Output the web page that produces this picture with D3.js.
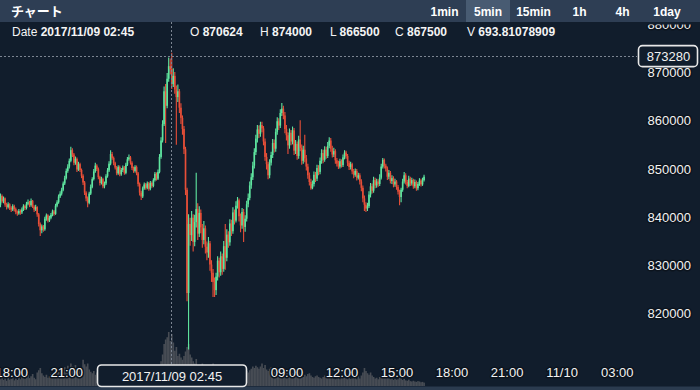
<!DOCTYPE html>
<html><head><meta charset="utf-8">
<script src="https://cdn.jsdelivr.net/npm/d3@7"></script>
<style>
html,body{margin:0;padding:0;background:#111d2c;overflow:hidden}
svg{display:block}
text{font-family:"Liberation Sans",Arial,Helvetica,sans-serif}
</style></head><body><svg id="c" width="700" height="390"></svg>
<script>
// ---------- data ----------
const startTime = new Date(2017, 10, 8, 17, 25);
const stepMinutes = 5;
const opens = [842500,844300,843200,843800,842500,842000,842600,841800,841500,842200,
841600,841000,840700,841200,840900,841500,842200,841800,842700,843000,
842400,843300,842100,841500,842000,840500,838500,837200,838000,837400,
839600,840300,839200,839800,840400,841100,840600,842300,843000,844200,
844800,845600,846900,848000,849500,850400,851600,853800,852900,851200,
852000,849800,850900,849700,848500,847100,845000,843800,842900,844800,
846200,847800,849400,850600,849900,848200,847000,847800,846300,846900,
848400,849600,851000,853000,852200,851100,850200,849000,850300,848800,
849700,850200,849100,850800,851900,852300,851200,850100,849500,850300,
849000,846800,845000,844200,845900,846700,846000,846900,845800,847000,
846400,847600,848900,847900,849300,852400,855800,859200,866000,863000,
868600,871200,870624,867500,869200,866400,864800,866000,862600,860500,
858200,854000,845600,824200,838500,836200,839800,834800,838900,841600,
836500,840800,837800,835200,837600,833800,832600,834500,830100,828400,
826500,824800,827600,830900,828500,831800,829200,833900,831500,836300,
834700,838600,837000,840900,839200,842300,843400,840100,838200,841000,
837900,839600,842600,843900,846500,848200,850600,853400,856200,858100,
857200,859000,858300,855600,852400,850900,848600,851200,852800,855300,
854100,857600,859800,858900,861500,862400,861000,858200,856900,854800,
857400,855600,857900,853700,855100,852600,856000,854300,851600,853900,
852100,850400,848600,847200,845900,846800,848700,847900,850100,849300,
851600,853200,851800,853900,852600,854700,855800,854100,852900,853600,
851700,851000,850400,851500,850700,852300,853300,852600,851200,850300,
850900,849400,848700,849500,848100,848600,847300,846000,843800,842500,
841700,842200,844600,846300,845400,847600,846500,847300,846800,848100,
850400,851800,850600,850000,848300,849100,847400,848000,846700,847300,
846200,845200,844100,845600,847300,848600,847200,846400,847900,846900,
847600,846300,847200,845900,846800,847500,846700,847600];
const highs = [844800,844600,844200,844000,842900,843000,842800,842200,842600,842500,
841900,841300,841600,841500,841900,842600,842500,843100,843600,843300,
843800,843500,842400,842500,842200,840800,838800,838400,838300,840000,
840700,840500,840200,840800,841500,841400,842700,843400,844600,845300,
846000,847300,848500,850000,850900,852100,854500,854200,853200,852500,
852300,851400,851200,850000,848800,847400,845300,844200,845200,846700,
848200,849900,851200,850900,850200,848500,848300,848100,847300,848800,
850100,851500,853800,853400,852500,851400,850500,850700,850600,850100,
850600,850500,851200,852400,852900,852600,851500,850400,850700,850600,
849300,847100,845400,846300,847100,847000,847300,847200,847400,847300,
848000,849300,849200,849800,853000,856500,860000,867000,867500,869800,
873000,872800,874000,870800,870000,867200,867400,866500,863500,861000,
858800,854500,846000,840500,839800,841200,840500,840400,849100,842800,
842200,841500,838500,839100,838200,834900,835800,835000,831000,829200,
827400,828400,831800,831500,832800,832400,835000,838500,837400,837000,
839500,839400,842000,841500,843200,844100,843800,840700,841800,841600,
840300,843300,844800,847300,849000,851400,854200,857000,859000,858900,
859700,859700,858800,856200,853200,851400,851900,853500,856100,856000,
858300,860600,860400,862300,863600,863000,861700,859000,857500,858300,
858000,858700,858400,855900,855600,856800,860000,855000,854700,857000,
852800,851000,849200,847900,847500,849400,849300,850800,850700,852300,
854000,853900,854600,854500,855500,856500,856300,854700,854300,854000,
852200,851600,852000,851900,852900,853800,853700,853000,851600,851400,
851200,849900,850000,849900,849100,849000,847800,846500,844400,843000,
842900,845300,847000,846900,848300,848100,847900,847800,848800,851000,
852200,852100,851000,850400,849700,849500,848600,848400,847900,847600,
846600,845600,846000,847900,849300,849000,847600,848500,848300,848100,
847900,847700,847500,847200,848000,847900,848100,848700];
const lows = [842000,842900,842800,842100,841500,841700,841400,841000,841200,841100,
840500,840200,840400,840400,840600,841200,841400,841500,842400,842000,
842100,841800,841000,841200,840000,838000,836000,836600,836900,837100,
839200,838800,838900,839500,840100,840200,840400,842000,842700,843900,
844400,845300,846600,847700,849100,850000,851300,852400,850700,850800,
849300,849500,849300,848000,846600,844500,843200,842000,842600,844500,
845900,847500,849100,849500,847800,846500,846700,845900,845900,846600,
848100,849300,850700,851800,850700,849800,848600,848700,848400,848500,
849300,848700,848800,850500,851600,850800,849700,849100,849200,848600,
846300,844400,843500,843900,845600,845600,845700,845400,845500,846000,
846100,847300,847500,847600,849000,852000,855400,858800,855300,862500,
868000,869500,866500,866900,865500,854900,863800,861500,859200,857000,
853000,844500,822500,812500,834000,835000,832800,833900,837800,835200,
835800,836600,833600,834300,832400,831000,831500,828800,826500,823400,
823400,823800,826800,827400,827800,828000,828600,829000,830800,833600,
834000,836000,836500,838400,838800,841700,839000,836800,837500,834800,
836900,839000,842000,843400,845800,847600,850000,852800,855400,856300,
856600,857500,854800,851600,849800,847800,848000,850600,852200,853300,
853500,857000,858000,858400,860900,860200,857300,855800,853000,854100,
854800,855000,852800,853000,851800,852000,853600,850800,851000,851300,
849600,847900,846500,845600,845700,846300,847200,847400,848600,848800,
851000,851100,851400,852000,852200,854200,853500,852300,852400,851000,
850400,849900,850000,850200,850300,851900,852000,850500,849700,849800,
848800,848000,848300,847500,847700,846700,845300,843000,841200,841000,
841200,841800,844000,844800,845000,845900,846000,846200,846400,847700,
850000,850000,849400,847600,847800,846900,846800,846100,846200,845600,
844600,842400,843000,845200,846900,846700,845900,846100,846400,846500,
845800,845900,845400,845500,846400,846300,846400,847300];
const closes = [844300,843200,843800,842500,842000,842600,841800,841500,842200,841600,
841000,840700,841200,840900,841500,842200,841800,842700,843000,842400,
843300,842100,841500,842000,840500,838500,837200,838000,837400,839600,
840300,839200,839800,840400,841100,840600,842300,843000,844200,844800,
845600,846900,848000,849500,850400,851600,853800,852900,851200,852000,
849800,850900,849700,848500,847100,845000,843800,842900,844800,846200,
847800,849400,850600,849900,848200,847000,847800,846300,846900,848400,
849600,851000,853000,852200,851100,850200,849000,850300,848800,849700,
850200,849100,850800,851900,852300,851200,850100,849500,850300,849000,
846800,845000,844200,845900,846700,846000,846900,845800,847000,846400,
847600,848900,847900,849300,852400,855800,859200,866000,863000,868600,
871200,870624,867500,869200,866400,864800,866000,862600,860500,858200,
854000,845600,824200,838500,836200,839800,834800,838900,841600,836500,
840800,837800,835200,837600,833800,832600,834500,830100,828400,826500,
824800,827600,830900,828500,831800,829200,833900,831500,836300,834700,
838600,837000,840900,839200,842300,843400,840100,838200,841000,837900,
839600,842600,843900,846500,848200,850600,853400,856200,858100,857200,
859000,858300,855600,852400,850900,848600,851200,852800,855300,854100,
857600,859800,858900,861500,862400,861000,858200,856900,854800,857400,
855600,857900,853700,855100,852600,856000,854300,851600,853900,852100,
850400,848600,847200,845900,846800,848700,847900,850100,849300,851600,
853200,851800,853900,852600,854700,855800,854100,852900,853600,851700,
851000,850400,851500,850700,852300,853300,852600,851200,850300,850900,
849400,848700,849500,848100,848600,847300,846000,843800,842500,841700,
842200,844600,846300,845400,847600,846500,847300,846800,848100,850400,
851800,850600,850000,848300,849100,847400,848000,846700,847300,846200,
845200,844100,845600,847300,848600,847200,846400,847900,846900,847600,
846300,847200,845900,846800,847500,846700,847600,848300];
const volumes = [90,120,80,100,70,110,85,95,130,75,
100,80,120,90,140,110,95,125,150,105,
130,160,110,90,180,210,240,170,140,120,
150,110,130,160,140,180,200,170,230,190,
210,180,250,230,270,220,300,260,240,280,
230,200,250,210,350,290,260,300,220,190,
170,200,150,180,160,140,170,150,130,160,
140,170,200,150,130,120,140,110,130,120,
110,130,150,170,140,120,110,100,130,120,
160,200,180,150,130,120,140,110,130,120,
140,160,150,170,250,330,420,560,620,650,
720,600,694,580,470,520,400,430,380,350,
400,460,520,560,420,380,330,300,360,280,
260,240,300,220,250,280,230,260,240,300,
280,250,230,210,240,200,220,260,200,190,
210,180,200,170,220,190,160,180,170,150,
170,200,180,210,230,260,240,270,250,230,
260,300,240,280,220,200,230,250,210,190,
220,240,200,230,250,210,190,170,180,160,
150,170,140,160,130,180,160,140,120,150,
130,160,170,140,120,110,130,140,120,110,
100,120,140,130,150,160,120,110,100,90,
100,110,90,120,130,110,100,90,105,95,
100,120,110,90,130,100,140,180,240,200,
170,150,180,140,120,100,110,90,120,140,
150,130,120,110,100,90,100,80,95,85,
90,110,100,80,95,75,70,85,65,60,
70,60,55,65,60,50,55,45];
const priceTicks = [820000, 830000, 840000, 850000, 860000, 870000, 880000];
const timeTickHours = 3;
const timeframes = ["1min", "5min", "15min", "1h", "4h", "1day"];
const selectedTimeframe = "5min";
const title = "チャート";
const crossTime = new Date(2017, 10, 9, 2, 45);
const crossPrice = 873280;
const crossDateLabel = "2017/11/09 02:45";
const infoItems = [["O", "870624"], ["H", "874000"], ["L", "866500"], ["C", "867500"], ["V", "693.81078909"]];

// ---------- layout ----------
const W = 700, H = 390;
const svg = d3.select("#c");
const bg = "#111d2c";
const upColor = "#5fe6a0", downColor = "#e84f38";

svg.append("rect").attr("width", W).attr("height", H).attr("fill", bg);
const defs = svg.append("defs");
defs.append("clipPath").attr("id", "axisClip").append("rect")
  .attr("x", 600).attr("y", 24.5).attr("width", 100).attr("height", 340);

const times = closes.map((_, i) => new Date(startTime.getTime() + i * stepMinutes * 60000));
const x = d3.scaleTime()
  .domain([new Date(2017, 10, 8, 18, 0), new Date(2017, 10, 10, 3, 0)])
  .range([11.2, 616.7]);
const y = d3.scaleLinear().domain([820000, 870000]).range([313.3, 72]);
const yv = d3.scaleLinear().domain([0, 800]).range([386, 326]);
const bw = (x(new Date(startTime.getTime() + stepMinutes * 60000)) - x(startTime));

// volume
svg.append("g").selectAll("rect").data(volumes).join("rect")
  .attr("x", (d, i) => x(times[i]) - bw / 2)
  .attr("width", bw + 0.1)
  .attr("y", d => yv(d))
  .attr("height", d => yv(0) - yv(d))
  .attr("fill", "#474c54");

// candles
const cg = svg.append("g");
const idx = d3.range(closes.length);
cg.selectAll("line").data(idx).join("line")
  .attr("x1", i => x(times[i])).attr("x2", i => x(times[i]))
  .attr("y1", i => y(highs[i])).attr("y2", i => y(lows[i]))
  .attr("stroke", i => closes[i] >= opens[i] ? upColor : downColor)
  .attr("stroke-width", 1.1);
cg.selectAll("rect").data(idx).join("rect")
  .attr("x", i => x(times[i]) - 0.8)
  .attr("width", 1.6)
  .attr("y", i => y(Math.max(opens[i], closes[i])))
  .attr("height", i => Math.max(1, Math.abs(y(opens[i]) - y(closes[i]))))
  .attr("fill", i => closes[i] >= opens[i] ? upColor : downColor);

// crosshair
svg.append("line").attr("x1", 0).attr("x2", 637).attr("y1", Math.round(y(crossPrice)) + 0.5).attr("y2", Math.round(y(crossPrice)) + 0.5)
  .attr("stroke", "#7c8592").attr("stroke-width", 1).attr("stroke-dasharray", "2,2");
const cx = Math.round(x(crossTime)) - 0.5;
svg.append("line").attr("x1", cx).attr("x2", cx).attr("y1", 22).attr("y2", 365)
  .attr("stroke", "#7c8592").attr("stroke-width", 1).attr("stroke-dasharray", "2,2");

function halo(sel) {
  return sel.attr("stroke", "#0c141e").attr("stroke-width", 3).attr("stroke-linejoin", "round")
    .attr("paint-order", "stroke").attr("fill", "#f2f2f2");
}

// y axis (right)
const yAxis = d3.axisRight(y).tickValues(priceTicks).tickSize(0).tickFormat(d3.format("d"));
const yg = svg.append("g").attr("clip-path", "url(#axisClip)")
  .append("g").attr("transform", "translate(691,0)").call(yAxis);
yg.select(".domain").remove();
yg.selectAll("text").attr("x", 0).attr("text-anchor", "end").attr("dy", "0.35em")
  .style("font-size", "13px").style("font-family", "'Liberation Sans',Arial,sans-serif")
  .call(halo);

// x axis
const tickTimes = d3.timeHour.every(timeTickHours).range(new Date(2017, 10, 8, 18, 0), new Date(2017, 10, 10, 3, 1));
const fmtTick = d => d.getHours() === 0 ? d3.timeFormat("%m/%d")(d) : d3.timeFormat("%H:%M")(d);
const boxX0 = 97, boxX1 = 246;
const visibleTicks = tickTimes.filter(t => x(t) + 18 < boxX0 || x(t) - 18 > boxX1);
const xAxis = d3.axisBottom(x).tickValues(visibleTicks).tickSize(0).tickFormat(fmtTick);
const xg = svg.append("g").attr("transform", "translate(0,366)").call(xAxis);
xg.select(".domain").remove();
xg.selectAll("text").attr("y", 0).attr("dy", "0.85em")
  .style("font-size", "13px").style("font-family", "'Liberation Sans',Arial,sans-serif")
  .call(halo);

// bottom strip
svg.append("rect").attr("x", 0).attr("y", 386.5).attr("width", W).attr("height", 4).attr("fill", "#2b3b4f");

// crosshair date box
svg.append("rect").attr("x", boxX0 + 0.5).attr("y", 365).attr("width", boxX1 - boxX0).attr("height", 21.5)
  .attr("rx", 4).attr("fill", bg).attr("stroke", "#e8e8e8").attr("stroke-width", 1.6);
svg.append("text").attr("x", (boxX0 + boxX1) / 2 + 0.5).attr("y", 381).attr("text-anchor", "middle")
  .style("font-size", "13px").attr("fill", "#f2f2f2").text(crossDateLabel);

// crosshair price box
const py = y(crossPrice);
svg.append("rect").attr("x", 638.5).attr("y", py - 10.5).attr("width", 59).attr("height", 21)
  .attr("rx", 4).attr("fill", bg).attr("stroke", "#e8e8e8").attr("stroke-width", 1.6);
svg.append("text").attr("x", 668.5).attr("y", py + 4.7).attr("text-anchor", "middle")
  .style("font-size", "13px").attr("fill", "#f2f2f2").text(d3.format("d")(crossPrice));

// header bar
svg.append("rect").attr("x", 0).attr("y", 0).attr("width", W).attr("height", 22).attr("fill", "#2e3e54");
svg.append("text").attr("x", 11).attr("y", 16).attr("fill", "#ffffff")
  .style("font-family", "'Noto Sans CJK JP',sans-serif").style("font-size", "13px").style("font-weight", "bold")
  .text(title);
const tfPos = {"1min": 444.5, "5min": 488, "15min": 533.5, "1h": 579.5, "4h": 622.5, "1day": 667};
timeframes.forEach(tf => {
  const cxp = tfPos[tf];
  if (tf === selectedTimeframe) {
    svg.append("rect").attr("x", cxp - 22).attr("y", 0).attr("width", 44).attr("height", 22).attr("fill", "#485b72");
  }
  svg.append("text").attr("x", cxp).attr("y", 15.5).attr("text-anchor", "middle")
    .attr("fill", "#ffffff").style("font-size", "12px").style("font-weight", "bold").text(tf);
});

// info row
const info = svg.append("text").attr("x", 12).attr("y", 36).attr("fill", "#f4f4f4").style("font-size", "12px");
info.append("tspan").text("Date ");
info.append("tspan").style("font-weight", "bold").text(crossDateLabel);
const infoX = [190, 260, 330, 395, 467];
infoItems.forEach((it, k) => {
  const t = svg.append("text").attr("x", infoX[k]).attr("y", 36).attr("fill", "#f4f4f4").style("font-size", "12px");
  t.append("tspan").text(it[0] + " ");
  t.append("tspan").style("font-weight", "bold").text(it[1]);
});
</script></body></html>
